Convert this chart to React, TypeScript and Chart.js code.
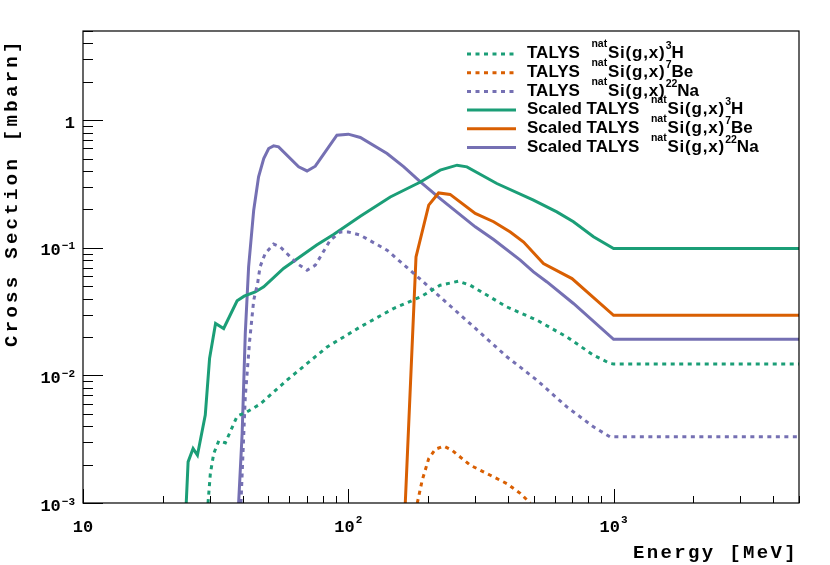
import React, { useEffect, useRef } from 'react';
import { Chart, registerables } from 'chart.js';

Chart.register(...registerables);

const GREEN = '#1b9e77';
const ORANGE = '#d95f02';
const PURPLE = '#7570b3';

// Scaled TALYS natSi(g,x)3H
const h3ScaledE = [24.5, 24.9, 26.0, 27.0, 28.9, 30.0, 31.6, 33.9, 38.1, 40.5, 44.6, 48, 57, 76, 88, 111, 144, 187, 222, 257, 280, 363, 499, 611, 706, 840, 1000, 5000];
const h3ScaledXS = [0.001, 0.0021, 0.00267, 0.00237, 0.00488, 0.0136, 0.0255, 0.0233, 0.0384, 0.0418, 0.0451, 0.0494, 0.0689, 0.105, 0.127, 0.177, 0.25, 0.328, 0.406, 0.444, 0.431, 0.319, 0.236, 0.191, 0.16, 0.122, 0.0987, 0.0987];

// TALYS natSi(g,x)3H
const h3E = [29.6, 30.2, 31.1, 32.5, 34.4, 38.1, 41.5, 46.5, 58.7, 83.2, 111, 148, 187, 222, 260, 288, 396, 514, 667, 840, 970, 1000, 5000];
const h3XS = [0.001, 0.0017, 0.00244, 0.00307, 0.00296, 0.00479, 0.00518, 0.00595, 0.00917, 0.0167, 0.024, 0.0334, 0.0412, 0.0509, 0.0547, 0.0509, 0.0344, 0.0271, 0.02, 0.0144, 0.0124, 0.0123, 0.0123];

// Scaled TALYS natSi(g,x)7Be
const be7ScaledE = [164, 180, 201, 219, 242, 301, 353, 408, 458, 544, 697, 1000, 5000];
const be7ScaledXS = [0.001, 0.0849, 0.216, 0.269, 0.262, 0.186, 0.16, 0.133, 0.111, 0.0753, 0.0574, 0.0296, 0.0296];

// TALYS natSi(g,x)7Be
const be7E = [182, 190, 201, 213, 229, 246, 288, 343, 396, 445, 485];
const be7XS = [0.001, 0.00151, 0.00223, 0.00264, 0.00279, 0.00259, 0.00198, 0.00165, 0.00142, 0.00119, 0.001];

// Scaled TALYS natSi(g,x)22Na
const na22ScaledE = [38.6, 39.8, 40.9, 42.1, 44.0, 45.9, 48, 50.1, 52.3, 54.6, 65, 69.9, 75.1, 90.6, 100, 111, 140, 162, 187, 222, 301, 353, 445, 499, 561, 706, 1000, 5000];
const na22ScaledXS = [0.001, 0.0035, 0.0213, 0.0709, 0.197, 0.36, 0.5, 0.6, 0.629, 0.618, 0.431, 0.4, 0.436, 0.763, 0.777, 0.732, 0.548, 0.431, 0.328, 0.243, 0.146, 0.116, 0.08, 0.0648, 0.054, 0.0366, 0.0192, 0.0192];

// TALYS natSi(g,x)22Na
const na22E = [39.4, 40.9, 42.5, 44, 45.5, 46.5, 48.6, 52.3, 55.4, 64.1, 69.9, 75.1, 85.5, 93.3, 100, 111, 140, 171, 222, 297, 396, 514, 667, 840, 970, 1000, 5000];
const na22XS = [0.001, 0.0068, 0.0189, 0.0388, 0.0525, 0.0709, 0.0902, 0.107, 0.1017, 0.0753, 0.0667, 0.073, 0.1147, 0.133, 0.133, 0.1256, 0.0958, 0.0667, 0.0412, 0.024, 0.014, 0.00917, 0.00566, 0.00395, 0.0033, 0.0033, 0.0033];

// Axis ticks
const xMajorTicks = [10, 100, 1000];
const xTickBase = ['10', '10', '10'];
const xTickExp = ['', '2', '3'];
const yMajorTicks = [1, 0.1, 0.01, 0.001];
const yTickBase = ['1', '10', '10', '10'];
const yTickExp = ['', '\u22121', '\u22122', '\u22123'];

// Legend
const legendPrefix = ['TALYS', 'TALYS', 'TALYS', 'Scaled TALYS', 'Scaled TALYS', 'Scaled TALYS'];
const legendMass = ['3', '7', '22', '3', '7', '22'];
const legendSymbol = ['H', 'Be', 'Na', 'H', 'Be', 'Na'];
const legendColor = [GREEN, ORANGE, PURPLE, GREEN, ORANGE, PURPLE];
const legendDotted = [true, true, true, false, false, false];

const xTitle = 'Energy [MeV]';
const yTitle = 'Cross Section [mbarn]';

function spacedText(ctx: CanvasRenderingContext2D, text: string, x: number, y: number, spacing: number) {
  let cx = x;
  for (const ch of text) {
    ctx.fillText(ch, cx, y);
    cx += ctx.measureText(ch).width + spacing;
  }
  return cx - spacing;
}

const overlay = {
  id: 'overlay',
  afterDraw(chart: any) {
    const ctx: CanvasRenderingContext2D = chart.ctx;
    const { left, right, top, bottom } = chart.chartArea;
    const xs = chart.scales.x;
    const ys = chart.scales.y;
    ctx.save();
    ctx.strokeStyle = '#000';
    ctx.fillStyle = '#000';
    ctx.lineWidth = 1.2;
    ctx.strokeRect(left, top, right - left, bottom - top);

    // x ticks
    ctx.lineWidth = 1;
    for (const d of xMajorTicks) {
      for (let m = 1; m <= 9; m++) {
        const v = m * d;
        if (v < 10 || v > 5000) continue;
        const px = Math.round(xs.getPixelForValue(v)) + 0.5;
        const len = m === 1 ? 14 : 7;
        ctx.beginPath();
        ctx.moveTo(px, bottom);
        ctx.lineTo(px, bottom - len);
        ctx.stroke();
      }
    }
    // y ticks
    for (const d of yMajorTicks) {
      for (let m = 1; m <= 9; m++) {
        const v = m * d;
        if (v > 5.0001) continue;
        const py = Math.round(ys.getPixelForValue(v)) + 0.5;
        const len = m === 1 ? 20 : 10;
        ctx.beginPath();
        ctx.moveTo(left, py);
        ctx.lineTo(left + len, py);
        ctx.stroke();
      }
    }

    const bigFont = "bold 17px 'Liberation Mono', monospace";
    const smallFont = "bold 11px 'Liberation Mono', monospace";
    ctx.textAlign = 'left';
    ctx.textBaseline = 'alphabetic';
    // x labels
    xMajorTicks.forEach((v, i) => {
      const px = xs.getPixelForValue(v);
      ctx.font = bigFont;
      const wb = ctx.measureText(xTickBase[i]).width;
      ctx.font = smallFont;
      const we = xTickExp[i] ? ctx.measureText(xTickExp[i]).width + 1 : 0;
      const start = px - (wb + we) / 2;
      ctx.font = bigFont;
      ctx.fillText(xTickBase[i], start, bottom + 29);
      if (xTickExp[i]) {
        ctx.font = smallFont;
        ctx.fillText(xTickExp[i], start + wb + 1, bottom + 20);
      }
    });
    // y labels
    yMajorTicks.forEach((v, i) => {
      const py = ys.getPixelForValue(v);
      const rightEdge = left - 8;
      ctx.font = smallFont;
      const we = yTickExp[i] ? ctx.measureText(yTickExp[i]).width : 0;
      ctx.font = bigFont;
      const wb = ctx.measureText(yTickBase[i]).width;
      const baseStart = rightEdge - we - (we ? 1 : 0) - wb;
      ctx.fillText(yTickBase[i], baseStart, py + 7.5);
      if (yTickExp[i]) {
        ctx.font = smallFont;
        ctx.fillText(yTickExp[i], rightEdge - we, py + 1.5);
      }
    });

    // axis titles
    ctx.font = "bold 19px 'Liberation Mono', monospace";
    spacedText(ctx, xTitle, 633, 558, 2.35);
    ctx.save();
    ctx.translate(16.5, 347);
    ctx.rotate(-Math.PI / 2);
    spacedText(ctx, yTitle, 0, 0, 3.3);
    ctx.restore();

    // legend
    const rowY0 = 54;
    const rowStep = 18.7;
    const legFont = "bold 17px 'Liberation Sans', Arial, sans-serif";
    const legSmall = "bold 10.5px 'Liberation Sans', Arial, sans-serif";
    legendPrefix.forEach((pre, i) => {
      const cy = rowY0 + i * rowStep;
      ctx.save();
      ctx.strokeStyle = legendColor[i];
      ctx.lineWidth = 3;
      ctx.setLineDash(legendDotted[i] ? [4, 4.5] : []);
      ctx.beginPath();
      ctx.moveTo(467, cy);
      ctx.lineTo(516, cy);
      ctx.stroke();
      ctx.restore();
      const base = cy + 4.3;
      ctx.fillStyle = '#000';
      ctx.font = legFont;
      ctx.fillText(pre, 527, base);
      const preW = ctx.measureText(pre).width;
      const natX = 527 + preW + 11.5;
      ctx.font = legSmall;
      ctx.fillText('nat', natX, base - 11);
      const siX = natX + 16.5;
      ctx.font = legFont;
      const siEnd = spacedText(ctx, 'Si(g,x)', siX, base, 0.8);
      ctx.font = legSmall;
      ctx.fillText(legendMass[i], siEnd + 1, base - 9);
      const mW = ctx.measureText(legendMass[i]).width;
      ctx.font = legFont;
      ctx.fillText(legendSymbol[i], siEnd + 1 + Math.max(mW, 4.5), base);
    });
    ctx.restore();
  },
};

const whiteBg = {
  id: 'whiteBg',
  beforeDraw(chart: any) {
    const ctx = chart.ctx;
    ctx.save();
    ctx.fillStyle = '#fff';
    ctx.fillRect(0, 0, chart.width, chart.height);
    ctx.restore();
  },
};

function series(E: number[], V: number[], color: string, dotted: boolean, label: string) {
  return {
    label,
    data: E.map((x, i) => ({ x, y: V[i] })),
    borderColor: color,
    backgroundColor: color,
    borderWidth: 3,
    borderDash: dotted ? [4, 4.5] : [],
    pointRadius: 0,
    fill: false,
    tension: 0,
    clip: 0,
  };
}

export default function App() {
  const ref = useRef<HTMLCanvasElement | null>(null);
  useEffect(() => {
    document.body.style.margin = '0';
    const canvas = ref.current;
    if (!canvas) return;
    const chart = new Chart(canvas, {
      type: 'line',
      data: {
        datasets: [
          series(h3E, h3XS, GREEN, true, 'TALYS natSi(g,x)3H'),
          series(be7E, be7XS, ORANGE, true, 'TALYS natSi(g,x)7Be'),
          series(na22E, na22XS, PURPLE, true, 'TALYS natSi(g,x)22Na'),
          series(h3ScaledE, h3ScaledXS, GREEN, false, 'Scaled TALYS natSi(g,x)3H'),
          series(be7ScaledE, be7ScaledXS, ORANGE, false, 'Scaled TALYS natSi(g,x)7Be'),
          series(na22ScaledE, na22ScaledXS, PURPLE, false, 'Scaled TALYS natSi(g,x)22Na'),
        ] as any,
      },
      options: {
        animation: false,
        responsive: false,
        maintainAspectRatio: false,
        layout: { padding: { left: 83, right: 31, top: 31, bottom: 62 } },
        scales: {
          x: { type: 'logarithmic', min: 10, max: 5000, display: false },
          y: { type: 'logarithmic', min: 0.001, max: 5, display: false },
        },
        plugins: { legend: { display: false }, tooltip: { enabled: false } },
        elements: { point: { radius: 0 }, line: { tension: 0 } },
      } as any,
      plugins: [whiteBg, overlay],
    });
    return () => chart.destroy();
  }, []);
  return (
    <div style={{ width: 830, height: 565 }}>
      <canvas ref={ref} width={830} height={565} style={{ width: 830, height: 565, display: 'block' }} />
    </div>
  );
}
